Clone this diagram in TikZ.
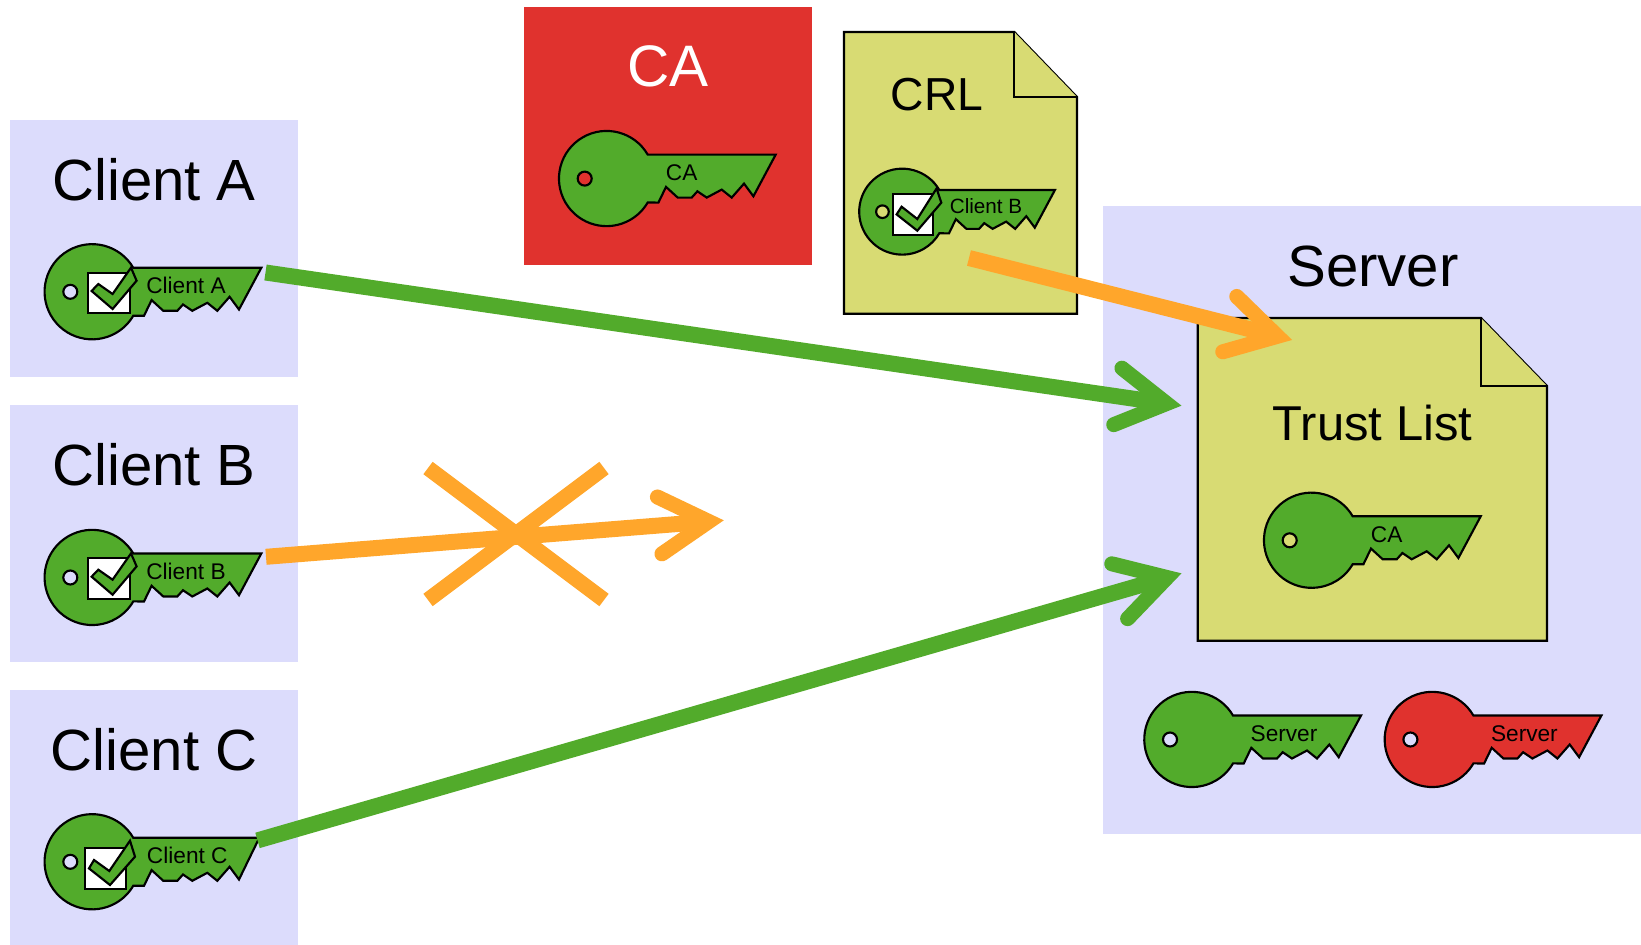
\documentclass[tikz,border=0pt]{standalone}
\usepackage{fontspec}
\setmainfont{Liberation Sans}
\usetikzlibrary{arrows.meta}
\definecolor{keygreen}{RGB}{82,171,43}
\definecolor{keyred}{RGB}{224,50,46}
\definecolor{lav}{RGB}{220,220,252}
\definecolor{docy}{RGB}{216,219,115}
\definecolor{barb}{RGB}{255,166,43}
\pgfdeclarearrow{
  name=BigBarb,
  setup code={
    \pgfarrowssettipend{11.4pt}
    \pgfarrowssetlineend{0pt}
    \pgfarrowssetvisualbackend{-37pt}
    \pgfarrowssetbackend{-44pt}
    \pgfarrowshullpoint{11.4pt}{0pt}
    \pgfarrowshullpoint{-44pt}{28pt}
    \pgfarrowshullpoint{-44pt}{-28pt}
  },
  drawing code={
    \pgfsetlinewidth{11.25pt}
    \pgfsetroundcap
    \pgfsetmiterjoin
    \pgfsetdash{}{0pt}
    \pgfpathmoveto{\pgfqpoint{-37pt}{21.4pt}}
    \pgfpathlineto{\pgfqpoint{0pt}{0pt}}
    \pgfpathlineto{\pgfqpoint{-37pt}{-21.4pt}}
    \pgfusepathqstroke
  }
}
\tikzset{
  x=0.75pt,y=-0.75pt,
  panel/.style={fill=#1,inner sep=0pt,outer sep=0pt,anchor=north west},
  title/.style={inner sep=0pt,outer sep=0pt,anchor=base,text=black,font=\fontsize{43.6pt}{50pt}\selectfont},
  keyline/.style={draw=black,line width=1.6pt,line join=miter},
  doc/.style={draw=black,fill=docy,line width=1.6pt,line join=miter},
  conn/.style={line width=12pt,draw=#1,-{BigBarb},line cap=butt},
  cross/.style={line width=11.6pt,draw=barb,line cap=butt},
  keylabel/.style={inner sep=0pt,outer sep=0pt,text=black,anchor=base}
}
\def\keytip{169}
% #1 name, #2 x, #3 y, #4 scale, #5 fill, #6 hole fill, #7 font pt, #8 label x, #9 label
\newcommand\keyshape[9]{%
  \begin{scope}[shift={(#2,#3)},scale=#4]
    \draw[keyline,fill=#5] (41,-24) arc[start angle=-30.2,end angle=-329.8,radius=47.6]
      -- (51.7,24) -- (59.3,8.3) -- (71,19) -- (85,19) -- (90.7,12.7) -- (100,19)
      -- (115,11) -- (125,19) -- (137.3,5) -- (146.7,17.7) -- (\keytip,-24) -- cycle;
    \draw[keyline,fill=#6] (-22,0) circle[radius=7];
    \node[keylabel,font=\fontsize{#7pt}{#7pt}\selectfont] (#1) at (#8,2) {#9};
  \end{scope}%
}
\newcommand\keycheck[3]{%
  \begin{scope}[shift={(#1,#2)}]
    #3
  \end{scope}%
}
\def\checkA{%
  \draw[keyline,fill=white] (-4,-19) rectangle (37.7,21.7);
  \draw[keyline,fill=keygreen] (-0.7,-0.7) -- (6,-7.7) -- (20.3,2.3) -- (38.7,-24) -- (44.3,-11) -- (20.3,17.3) -- cycle;}
\begin{document}
\begin{tikzpicture}
\useasboundingbox (0,0) rectangle (1641,945);
\fill[white] (0,0) rectangle (1641,945);
% panels
\node[panel=lav,minimum width=288*0.75pt,minimum height=257*0.75pt] (boxA) at (10,120) {};
\node[panel=lav,minimum width=288*0.75pt,minimum height=256.5*0.75pt] (boxB) at (10,405) {};
\node[panel=lav,minimum width=288*0.75pt,minimum height=255*0.75pt] (boxC) at (10,690) {};
\node[panel=lav,minimum width=538*0.75pt,minimum height=628*0.75pt] (boxS) at (1103,206) {};
\node[panel=keyred,minimum width=288*0.75pt,minimum height=258*0.75pt] (boxCA) at (524,7) {};
% titles
\node[title] (tA) at (154,200) {Client A};
\node[title] (tB) at (154,485.5) {Client B};
\node[title] (tC) at (154,770) {Client C};
\node[title] (tS) at (1373,286.5) {Server};
\node[title,text=white,font=\fontsize{43.9pt}{50pt}\selectfont] (tCA) at (667.7,86.5) {CA};
% documents
\draw[doc] (844,32) -- (1014.3,32) -- (1077,97) -- (1077,313.7) -- (844,313.7) -- cycle;
\draw[doc] (1014.3,32) -- (1014.3,97) -- (1077,97);
\node[title,font=\fontsize{34.7pt}{40pt}\selectfont] (tCRL) at (937,111) {CRL};
\draw[doc] (1197.7,318) -- (1481,318) -- (1547,386) -- (1547,640.7) -- (1197.7,640.7) -- cycle;
\draw[doc] (1481,318) -- (1481,386) -- (1547,386);
\node[title,font=\fontsize{36.7pt}{42pt}\selectfont] (tTL) at (1372.5,440) {Trust List};
% keys
\keyshape{kCA}{606.7}{178.6}{1}{keygreen}{keyred}{17}{75}{CA}
\keyshape{kTL}{1311.7}{540.3}{1}{keygreen}{docy}{17}{75}{CA}
\keyshape{kS1}{1192}{739.5}{1}{keygreen}{lav}{17}{92}{Server}
\keyshape{kS2}{1432.4}{739.5}{1}{keyred}{lav}{17}{92}{Server}
\keyshape{kA}{92.3}{291.8}{1}{keygreen}{lav}{17}{93.7}{Client A}
\keycheck{92.3}{291.7}{\checkA}
\keyshape{kB}{92.3}{577.5}{1}{keygreen}{lav}{17}{93.7}{Client B}
\keycheck{92.3}{577.4}{\checkA}
{\def\keytip{167}
\keyshape{kC}{92.3}{861.8}{1}{keygreen}{lav}{17}{95}{Client C}}
\keycheck{92.3}{861.7}{%
  \draw[keyline,fill=white] (-7.3,-13.3) rectangle (33.7,27);
  \draw[keyline,fill=keygreen] (-3.3,6.7) -- (1.7,-1.7) -- (17,9.3) -- (37.7,-21) -- (42.7,-5) -- (17.7,23.3) -- cycle;}
\keyshape{kCRL}{902.3}{211.7}{0.903}{keygreen}{docy}{15.5}{92.7}{Client B}
\keycheck{902.3}{211.7}{%
  \draw[keyline,fill=white] (-9.7,-17.3) rectangle (31,23.3);
  \draw[keyline,fill=keygreen] (-5.7,2.7) -- (-0.7,-5) -- (15,7.3) -- (34.3,-23.3) -- (39,-9) -- (15,19) -- cycle;}
% connector ends
\coordinate (sA) at (265.5,272.5);
\coordinate (eA) at (1181.7,405.7);
\coordinate (sB) at (266,556.8);
\coordinate (eB) at (724,520.3);
\coordinate (sC) at (257.5,840.4);
\coordinate (eC) at (1181.7,573.3);
\coordinate (sCRL) at (969,258);
\coordinate (eCRL) at (1292.3,340);
\coordinate (x1) at (428,468);
\coordinate (x2) at (604,600);
\coordinate (x3) at (604,468);
\coordinate (x4) at (428,600);
\draw[conn=keygreen] (sA) -- (eA);
\draw[conn=keygreen] (sC) -- (eC);
\draw[conn=barb] (sCRL) -- (eCRL);
\draw[conn=barb] (sB) -- (eB);
\draw[cross] (x1) -- (x2);
\draw[cross] (x3) -- (x4);
\end{tikzpicture}
\end{document}
